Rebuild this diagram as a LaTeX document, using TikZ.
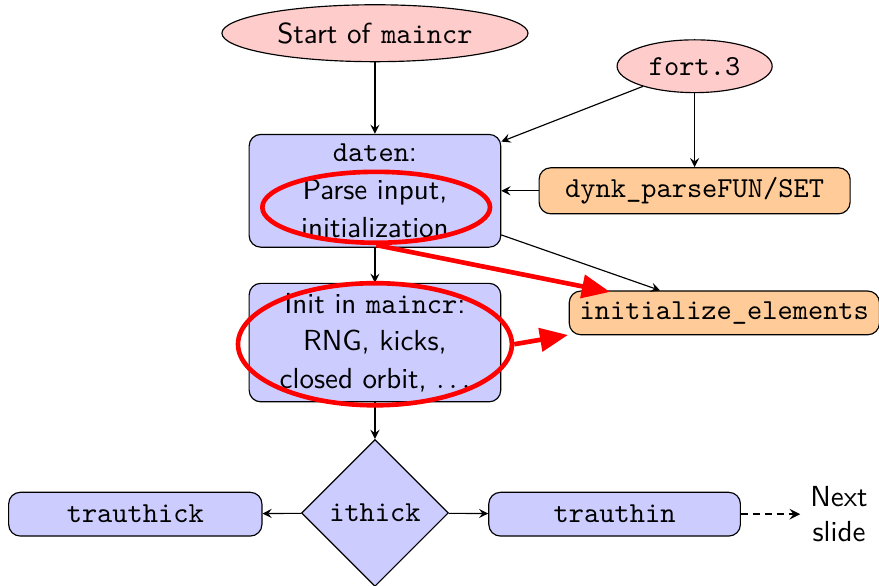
\documentclass[tikz,border=0pt]{standalone}
\usetikzlibrary{shapes.geometric,arrows.meta,positioning}
\begin{document}
\begin{tikzpicture}[>=stealth,font=\sffamily,
  startnode/.style={ellipse,draw,fill=red!20,inner sep=0pt},
  blockbox/.style={rectangle,rounded corners,draw,fill=blue!20,align=center},
  subbox/.style={rectangle,rounded corners,draw,fill=orange!40,font=\ttfamily},
  decision/.style={diamond,draw,fill=blue!20,aspect=1,inner sep=0pt,minimum size=1.78cm,font=\ttfamily},
  highlight/.style={ellipse,draw=red,ultra thick,inner sep=0pt},
  redarrow/.style={draw=red,ultra thick,-{Triangle[length=0.34cm,width=0.28cm]}}]
\useasboundingbox (0,0) rectangle (10.655,7.103);
% main chain
\node[startnode,minimum width=3.71cm,minimum height=0.69cm] (start) at (4.545,6.70) {Start of \texttt{maincr}};
\node[startnode,minimum width=1.88cm,minimum height=0.64cm] (fort) at (8.42,6.30) {\texttt{fort.3}};
\node[blockbox,minimum width=3.05cm,minimum height=1.32cm] (daten) at (4.545,4.79) {\texttt{daten}:\\[1pt]Parse input,\\[1pt]initialization};
\node[subbox,minimum width=3.77cm,minimum height=0.55cm] (dynk) at (8.42,4.79) {dynk\_parseFUN/SET};
\node[subbox,minimum width=3.76cm,minimum height=0.53cm] (initel) at (8.78,3.31) {initialize\_elements};
\node[blockbox,minimum width=3.05cm,minimum height=1.41cm] (maininit) at (4.545,2.95) {Init in \texttt{maincr}:\\[1pt]RNG, kicks,\\[1pt]closed orbit, $\ldots$};
% tracking
\node[decision] (ithick) at (4.545,0.885) {ithick};
\node[blockbox,minimum width=3.07cm,minimum height=0.53cm,font=\ttfamily] (thick) at (1.64,0.87) {trauthick};
\node[blockbox,minimum width=3.05cm,minimum height=0.53cm,font=\ttfamily] (thin) at (7.45,0.87) {trauthin};
\node[align=center] (next) at (10.17,0.87) {Next\\slide};
\draw[->] (start) -- (daten);
\draw[->] (fort) -- (daten);
\draw[->] (fort) -- (dynk);
\draw[->] (dynk) -- (daten);
\draw[->] (daten) -- (initel);
\draw[->] (daten) -- (maininit);
\draw[->] (maininit) -- (ithick);
\draw[->] (ithick) -- (thick);
\draw[->] (ithick) -- (thin);
\draw[->,semithick,dash pattern=on 2.5pt off 1.6pt] (thin) -- (next);
% red marks
\node[highlight,minimum width=2.76cm,minimum height=0.86cm] (mark1) at (4.56,4.59) {};
\node[highlight,minimum width=3.32cm,minimum height=1.48cm] (mark2) at (4.545,2.93) {};
\coordinate (tip1) at (7.394,3.564);
\coordinate (tip2) at (6.885,3.042);
\draw[redarrow] (mark1.south) -- (tip1);
\draw[redarrow] (mark2.east) -- (tip2);
\end{tikzpicture}
\end{document}
